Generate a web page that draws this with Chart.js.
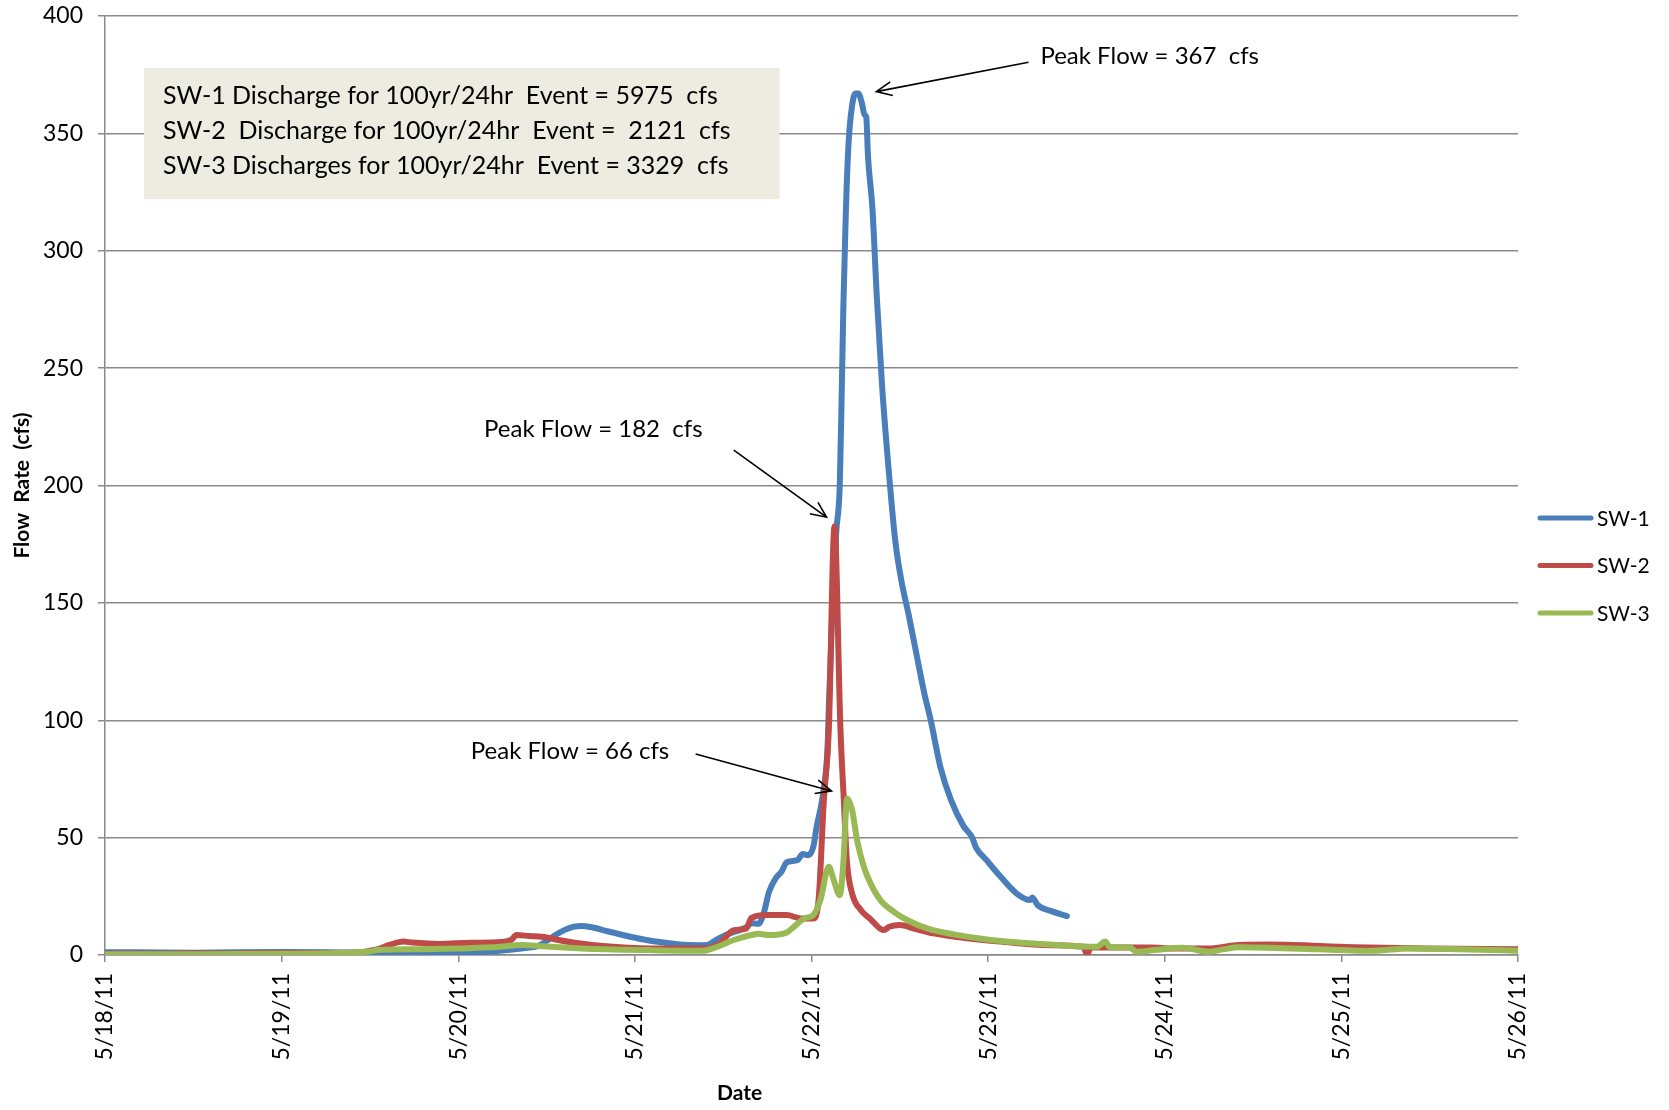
<!DOCTYPE html>
<html lang="en">
<head>
    <meta charset="UTF-8">
    <title>Flow Rate</title>
    <script src="https://cdn.jsdelivr.net/npm/chart.js"></script>
    <style>
        body {
            margin: 0;
            background-color: #ffffff;
        }
        canvas {
            display: block;
        }
    </style>
</head>
<body>
    <canvas id="flowChart" width="1669" height="1110"></canvas>

    <script>
        // x axis tick labels (one per day, x value = days since 5/18/11)
        const dateLabels = ['5/18/11', '5/19/11', '5/20/11', '5/21/11', '5/22/11', '5/23/11', '5/24/11', '5/25/11', '5/26/11'];
        const seriesNames = ['SW-1', 'SW-2', 'SW-3'];

        // SW-1
        const sw1Day = [0.00, 0.50, 1.00, 1.50, 2.00, 2.20, 2.32, 2.40, 2.45, 2.50, 2.55, 2.60, 2.65, 2.70, 2.75, 2.85, 2.95, 3.05, 3.15, 3.25, 3.35, 3.41, 3.46, 3.53, 3.60, 3.63, 3.66, 3.70, 3.73, 3.76, 3.80, 3.83, 3.86, 3.92, 3.95, 3.98, 4.01, 4.03, 4.05, 4.07, 4.09, 4.10, 4.12, 4.14, 4.16, 4.17, 4.18, 4.195, 4.21, 4.23, 4.25, 4.265, 4.285, 4.30, 4.31, 4.32, 4.345, 4.37, 4.40, 4.44, 4.475, 4.51, 4.55, 4.60, 4.64, 4.675, 4.73, 4.79, 4.86, 4.91, 4.93, 4.99, 5.07, 5.16, 5.24, 5.25, 5.28, 5.35, 5.446];
        const sw1Flow = [1.2, 1.0, 1.3, 1.0, 1.0, 1.5, 2.4, 3.2, 3.8, 6.0, 8.5, 10.6, 12.0, 12.4, 11.9, 10.0, 8.2, 6.6, 5.4, 4.5, 4.2, 4.3, 6.4, 9.0, 10.8, 11.8, 13.5, 13.3, 18.0, 27.0, 33.0, 35.5, 39.5, 40.4, 43.0, 42.5, 46.0, 55.0, 62.0, 71.0, 87.0, 110, 150, 180, 200, 235, 275, 318, 346, 362, 367, 367, 363, 358, 357, 340, 318, 280, 242, 204, 176, 159, 145, 126, 111, 100, 80, 66, 55, 50, 46, 40.5, 33.4, 26.3, 23.4, 24.5, 21.3, 18.9, 16.6];

        // SW-2
        const sw2Day = [0.00, 0.50, 1.00, 1.40, 1.54, 1.61, 1.69, 1.74, 1.89, 2.07, 2.24, 2.30, 2.33, 2.40, 2.50, 2.56, 2.65, 2.82, 3.08, 3.40, 3.48, 3.56, 3.63, 3.66, 3.75, 3.86, 3.94, 4.01, 4.04, 4.07, 4.098, 4.13, 4.164, 4.183, 4.20, 4.23, 4.28, 4.33, 4.41, 4.44, 4.50, 4.58, 4.69, 4.88, 5.07, 5.35, 5.54, 5.56, 5.58, 5.92, 6.04, 6.25, 6.42, 6.60, 7.07, 7.48, 8.00];
        const sw2Flow = [0.5, 0.6, 0.8, 1.0, 2.4, 4.3, 5.7, 5.3, 4.7, 5.2, 5.5, 6.4, 8.5, 8.1, 7.5, 6.5, 5.3, 3.8, 2.8, 2.8, 4.9, 10.6, 11.2, 15.8, 17.0, 17.0, 15.6, 15.6, 23.4, 66, 96, 182.5, 96, 66, 40.4, 26.2, 19.1, 15.6, 10.6, 12.0, 12.8, 11.3, 9.2, 7.1, 5.7, 4.2, 3.5, 0.0, 3.2, 3.2, 2.8, 2.8, 4.3, 4.5, 3.3, 2.8, 2.4];

        // SW-3
        const sw3Day = [0.00, 0.50, 1.00, 1.50, 1.54, 1.80, 2.19, 2.37, 2.45, 2.70, 3.08, 3.38, 3.46, 3.56, 3.66, 3.70, 3.76, 3.86, 3.90, 3.96, 4.01, 4.05, 4.098, 4.126, 4.16, 4.179, 4.202, 4.23, 4.258, 4.296, 4.334, 4.39, 4.466, 4.541, 4.654, 4.805, 4.994, 5.258, 5.616, 5.663, 5.69, 5.80, 5.84, 5.94, 6.10, 6.25, 6.33, 6.42, 6.87, 7.18, 7.38, 8.00];
        const sw3Flow = [0.3, 0.3, 0.5, 1.5, 2.1, 2.5, 3.3, 4.3, 3.8, 2.8, 2.1, 1.8, 3.3, 6.4, 8.5, 9.0, 8.5, 9.6, 12.0, 15.6, 17.0, 23.4, 37.6, 31.9, 25.5, 37.6, 66.7, 61.7, 49.0, 37.6, 30.5, 23.4, 18.4, 14.9, 11.3, 8.8, 6.6, 4.9, 3.5, 5.7, 3.3, 3.3, 1.4, 2.1, 3.1, 1.4, 2.4, 3.3, 2.4, 1.8, 2.8, 1.8];

        // text box and peak labels (positions in axis units)
        const noteLines = [
            'SW-1 Discharge for 100yr/24hr  Event = 5975  cfs',
            'SW-2  Discharge for 100yr/24hr  Event =  2121  cfs',
            'SW-3 Discharges for 100yr/24hr  Event = 3329  cfs'
        ];
        const noteBox = {x0: 0.221, x1: 3.819, yTop: 377.8, yBottom: 322.0, textX: 0.328, lineY: [366.0, 351.1, 336.2]};
        const peakNotes = [
            {text: 'Peak Flow = 367  cfs', tx: 5.296, ty: 382.7, fromX: 5.229, fromY: 380.3, toX: 4.367, toY: 367.8},
            {text: 'Peak Flow = 182  cfs', tx: 2.146, ty: 223.9, fromX: 3.560, fromY: 215.1, toX: 4.085, toY: 186.5},
            {text: 'Peak Flow = 66 cfs', tx: 2.071, ty: 86.6, fromX: 3.344, fromY: 85.6, toX: 4.113, toY: 69.9}
        ];

        const colors = ['#4A7EBB', '#BE4B48', '#98B954'];
        const gridColor = '#8a8a8a';
        const fontName = 'Lato, "Open Sans", sans-serif';

        const toPoints = (days, flows) => days.map((d, i) => ({x: d, y: flows[i]}));

        function arrow(ctx, x1, y1, x2, y2) {
            const ang = Math.atan2(y2 - y1, x2 - x1);
            const head = 17;
            ctx.beginPath();
            ctx.moveTo(x1, y1);
            ctx.lineTo(x2, y2);
            ctx.moveTo(x2 - head * Math.cos(ang - 0.42), y2 - head * Math.sin(ang - 0.42));
            ctx.lineTo(x2, y2);
            ctx.lineTo(x2 - head * Math.cos(ang + 0.42), y2 - head * Math.sin(ang + 0.42));
            ctx.stroke();
        }

        // note box goes under the lines, labels/arrows/legend on top
        const notesPlugin = {
            id: 'notes',
            beforeDatasetsDraw(chart) {
                const {ctx, scales: {x, y}} = chart;
                ctx.save();
                const left = x.getPixelForValue(noteBox.x0);
                const top = y.getPixelForValue(noteBox.yTop);
                ctx.fillStyle = '#EEECE1';
                ctx.fillRect(left, top, x.getPixelForValue(noteBox.x1) - left, y.getPixelForValue(noteBox.yBottom) - top);
                ctx.fillStyle = '#000';
                ctx.font = '25px ' + fontName;
                ctx.textBaseline = 'middle';
                noteLines.forEach((line, i) => {
                    ctx.fillText(line, x.getPixelForValue(noteBox.textX), y.getPixelForValue(noteBox.lineY[i]));
                });
                ctx.restore();
            },
            afterDraw(chart) {
                const {ctx, scales: {x, y}} = chart;
                ctx.save();
                ctx.fillStyle = '#000';
                ctx.strokeStyle = '#000';
                ctx.lineWidth = 1.6;
                ctx.font = '24px ' + fontName;
                ctx.textBaseline = 'middle';
                peakNotes.forEach(n => {
                    ctx.fillText(n.text, x.getPixelForValue(n.tx), y.getPixelForValue(n.ty));
                    arrow(ctx, x.getPixelForValue(n.fromX), y.getPixelForValue(n.fromY),
                        x.getPixelForValue(n.toX), y.getPixelForValue(n.toY));
                });

                // x axis title
                ctx.font = 'bold 21px ' + fontName;
                ctx.textAlign = 'center';
                ctx.fillText('Date', x.getPixelForValue(3.593), 1093);

                // legend
                ctx.textAlign = 'left';
                ctx.font = '21px ' + fontName;
                ctx.lineCap = 'round';
                ctx.lineWidth = 5;
                chart.data.datasets.forEach((ds, i) => {
                    const ly = 518 + i * 47.5;
                    ctx.strokeStyle = ds.borderColor;
                    ctx.beginPath();
                    ctx.moveTo(1540, ly);
                    ctx.lineTo(1591, ly);
                    ctx.stroke();
                    ctx.fillText(ds.label, 1597, ly + 1);
                });
                ctx.restore();
            }
        };

        new Chart(document.getElementById('flowChart').getContext('2d'), {
            type: 'line',
            data: {
                datasets: [
                    {label: seriesNames[0], data: toPoints(sw1Day, sw1Flow), borderColor: colors[0], order: 3},
                    {label: seriesNames[1], data: toPoints(sw2Day, sw2Flow), borderColor: colors[1], order: 2},
                    {label: seriesNames[2], data: toPoints(sw3Day, sw3Flow), borderColor: colors[2], order: 1}
                ]
            },
            options: {
                responsive: false,
                animation: false,
                parsing: false,
                elements: {
                    point: {radius: 0},
                    line: {borderWidth: 6, cubicInterpolationMode: 'monotone', borderJoinStyle: 'round', borderCapStyle: 'round'}
                },
                layout: {padding: {left: 0, right: 151, top: 16, bottom: 0}},
                plugins: {
                    legend: {display: false},
                    tooltip: {enabled: false}
                },
                scales: {
                    x: {
                        type: 'linear',
                        min: 0,
                        max: 8,
                        afterFit: s => { s.height = 155; },
                        grid: {drawOnChartArea: false, drawTicks: true, tickLength: 7, color: gridColor, lineWidth: 1.5},
                        border: {color: gridColor, width: 1.5},
                        ticks: {
                            stepSize: 1,
                            autoSkip: false,
                            minRotation: 90,
                            maxRotation: 90,
                            padding: 11,
                            color: '#000',
                            font: {family: fontName, size: 23},
                            callback: v => dateLabels[v]
                        }
                    },
                    y: {
                        min: 0,
                        max: 400,
                        afterFit: s => {
                            s.width = 105;
                            s.paddingTop = 0;
                            s.paddingBottom = 0;
                        },
                        grid: {color: gridColor, lineWidth: 1.5, tickLength: 7},
                        border: {color: gridColor, width: 1.5},
                        ticks: {
                            stepSize: 50,
                            padding: 15,
                            color: '#000',
                            font: {family: fontName, size: 23}
                        },
                        title: {
                            display: true,
                            text: 'Flow  Rate  (cfs)',
                            color: '#000',
                            font: {family: fontName, size: 21, weight: 'bold'},
                            padding: {top: 10, bottom: 0}
                        }
                    }
                }
            },
            plugins: [notesPlugin]
        });
    </script>
</body>
</html>
